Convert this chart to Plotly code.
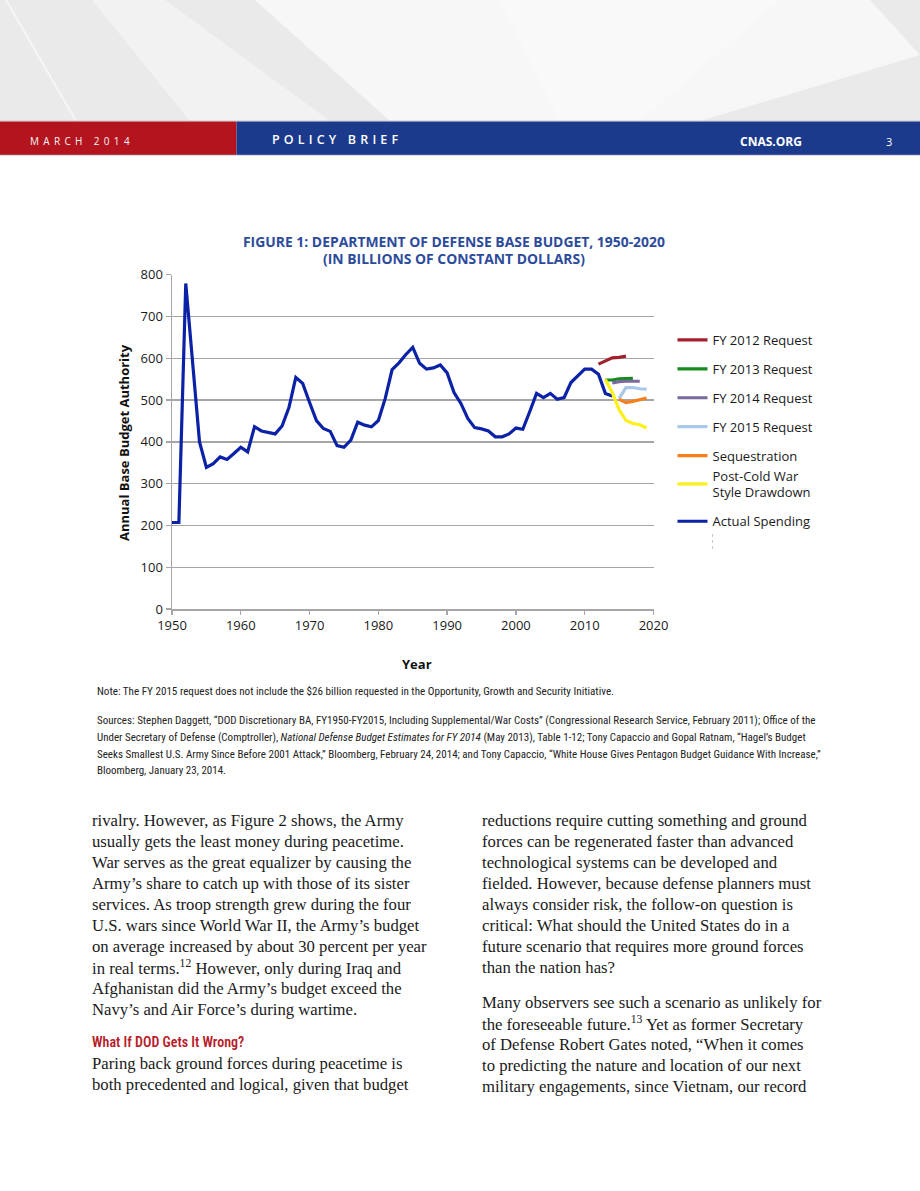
import plotly.graph_objects as go

# full page figure 920x1191 (body margin removed after plotting)
W, H = 920, 1191
OX, OY = 0, 0
DW, DH = W - 2 * OX, H - 2 * OY

# ---------------- data ----------------
years_actual = list(range(1950, 2015))
actual = [207, 207, 779, 580, 400, 339, 348, 364, 358, 372,
          387, 376, 436, 426, 423, 419, 438, 482, 554, 540,
          494, 451, 432, 425, 391, 387, 404, 447, 440, 436,
          451, 504, 573, 589, 609, 626, 588, 574, 577, 584,
          565, 518, 492, 456, 434, 431, 426, 412, 412, 419,
          433, 430, 472, 516, 506, 516, 502, 506, 542, 557,
          574, 574, 562, 516, 510]

years_fy12 = [2012, 2013, 2014, 2015, 2016]
fy12 = [586, 594, 601, 602, 605]
years_fy13 = [2013, 2014, 2015, 2016, 2017]
fy13 = [548, 548, 551, 552, 552]
years_fy14 = [2014, 2015, 2016, 2017, 2018]
fy14 = [541, 544, 545, 545, 545]
years_fy15 = [2015, 2016, 2017, 2018, 2019]
fy15 = [504, 530, 530, 527, 526]
years_seq = [2015, 2016, 2017, 2018, 2019]
seq = [502, 494, 497, 501, 505]
years_pcw = [2013, 2014, 2015, 2016, 2017, 2018, 2019]
pcw = [549, 518, 477, 451, 444, 441, 433]

series_names = ["FY 2012 Request", "FY 2013 Request", "FY 2014 Request",
                "FY 2015 Request", "Sequestration",
                "Post-Cold War<br>Style Drawdown", "Actual Spending"]
series_colors = ["#A2202E", "#168A1E", "#7B6A9C", "#A8C8EA", "#F7801E",
                 "#FAF01C", "#0B22A6"]
series_groups = ["g0", "g1", "g2", "g3", "g4", "g4", "g6"]

x_ticks = [1950, 1960, 1970, 1980, 1990, 2000, 2010, 2020]
y_ticks = [0, 100, 200, 300, 400, 500, 600, 700, 800]

title_lines = ["FIGURE 1: DEPARTMENT OF DEFENSE BASE BUDGET, 1950-2020",
               "(IN BILLIONS OF CONSTANT DOLLARS)"]

note_lines = [
    "Note: The FY 2015 request does not include the $26 billion requested in the Opportunity, Growth and Security Initiative.",
]
source_lines = [
    "Sources: Stephen Daggett, “DOD Discretionary BA, FY1950-FY2015, Including Supplemental/War Costs” (Congressional Research Service, February 2011); Office of the",
    "Under Secretary of Defense (Comptroller), <i>National Defense Budget Estimates for FY 2014</i> (May 2013), Table 1-12; Tony Capaccio and Gopal Ratnam, “Hagel’s Budget",
    "Seeks Smallest U.S. Army Since Before 2001 Attack,” Bloomberg, February 24, 2014; and Tony Capaccio, “White House Gives Pentagon Budget Guidance With Increase,”",
    "Bloomberg, January 23, 2014.",
]

left_col_a = [
    "rivalry. However, as Figure 2 shows, the Army",
    "usually gets the least money during peacetime.",
    "War serves as the great equalizer by causing the",
    "Army’s share to catch up with those of its sister",
    "services. As troop strength grew during the four",
    "U.S. wars since World War II, the Army’s budget",
    "on average increased by about 30 percent per year",
    "in real terms.<sup>12</sup> However, only during Iraq and",
    "Afghanistan did the Army’s budget exceed the",
    "Navy’s and Air Force’s during wartime.",
]
left_heading = "What If DOD Gets It Wrong?"
left_col_b = [
    "Paring back ground forces during peacetime is",
    "both precedented and logical, given that budget",
]
right_col_a = [
    "reductions require cutting something and ground",
    "forces can be regenerated faster than advanced",
    "technological systems can be developed and",
    "fielded. However, because defense planners must",
    "always consider risk, the follow-on question is",
    "critical: What should the United States do in a",
    "future scenario that requires more ground forces",
    "than the nation has?",
]
right_col_b = [
    "Many observers see such a scenario as unlikely for",
    "the foreseeable future.<sup>13</sup> Yet as former Secretary",
    "of Defense Robert Gates noted, “When it comes",
    "to predicting the nature and location of our next",
    "military engagements, since Vietnam, our record",
]

# ---------------- helpers ----------------
def px(x):
    return (x - OX) / DW


def py(y):
    return 1 - (y - OY) / DH


def spaced(t, gap):
    return gap.join(list(t)).replace(" ", "\u00a0")


SANS = "Open Sans, Noto Sans, sans-serif"
NARROW = "Liberation Sans Narrow, Arial Narrow, Roboto Condensed, sans-serif"
SERIF = "Liberation Serif, Times New Roman, serif"

fig = go.Figure()

all_series = [
    (years_fy12, fy12), (years_fy13, fy13), (years_fy14, fy14),
    (years_fy15, fy15), (years_seq, seq), (years_pcw, pcw),
    (years_actual, actual),
]
draw_order = [6, 0, 1, 2, 3, 4, 5]
for i in draw_order:
    xs, ys = all_series[i]
    fig.add_trace(go.Scatter(
        x=xs, y=ys, mode="lines", name=series_names[i],
        line=dict(color=series_colors[i], width=3.2),
        legendgroup=series_groups[i], legendrank=i + 1,
        hoverinfo="skip",
    ))

# ---------------- layout ----------------
shapes = []
# header background
shapes.append(dict(type="rect", xref="paper", yref="paper", x0=px(-20), x1=px(940),
                   y0=py(121), y1=py(-20), fillcolor="#EAEAEB", line_width=0, layer="below"))
shapes.append(dict(type="path", xref="paper", yref="paper",
                   path="M %f,%f L %f,%f L %f,%f L %f,%f L %f,%f Z" % (
                       px(255), py(0), px(870), py(0), px(920), py(55),
                       px(700), py(121), px(390), py(121)),
                   fillcolor="#F7F7F7", line_width=0, layer="below"))
shapes.append(dict(type="path", xref="paper", yref="paper",
                   path="M %f,%f L %f,%f L %f,%f L %f,%f Z" % (
                       px(92), py(0), px(165), py(0), px(330), py(121), px(190), py(121)),
                   fillcolor="#F2F2F2", line_width=0, layer="below"))
shapes.append(dict(type="path", xref="paper", yref="paper",
                   path="M %f,%f L %f,%f L %f,%f L %f,%f Z" % (
                       px(500), py(0), px(780), py(0), px(640), py(121), px(560), py(121)),
                   fillcolor="#FAFAFA", line_width=0, layer="below", opacity=0.7))
shapes.append(dict(type="line", xref="paper", yref="paper",
                   x0=px(6), y0=py(0), x1=px(76), y1=py(121),
                   line=dict(color="#F6F6F6", width=2), layer="below"))
shapes.append(dict(type="line", xref="paper", yref="paper",
                   x0=px(0), y0=py(121), x1=px(920), y1=py(121),
                   line=dict(color="#C9C9CC", width=1), layer="below"))
# banner
shapes.append(dict(type="rect", xref="paper", yref="paper", x0=px(-20), x1=px(236.5),
                   y0=py(155), y1=py(121.5), fillcolor="#B3141E", line_width=0, layer="below"))
shapes.append(dict(type="rect", xref="paper", yref="paper", x0=px(236.5), x1=px(940),
                   y0=py(155), y1=py(121.5), fillcolor="#1B3A8B", line_width=0, layer="below"))
shapes.append(dict(type="line", xref="paper", yref="paper",
                   x0=px(0), y0=py(155.3), x1=px(920), y1=py(155.3),
                   line=dict(color="#D4D6E0", width=1), layer="below"))
# faint dotted mark under the legend
shapes.append(dict(type="line", xref="paper", yref="paper",
                   x0=px(712.5), y0=py(534), x1=px(712.5), y1=py(550),
                   line=dict(color="#C8C8C8", width=1, dash="dot"), layer="below"))

annotations = []


def ann(text, x, y, size, color="#1a1a1a", family=SANS, xanchor="left",
        weight="normal", angle=0):
    annotations.append(dict(
        text=text, x=px(x), y=py(y), xref="paper", yref="paper",
        xanchor=xanchor, yanchor="middle", showarrow=False, textangle=angle,
        font=dict(family=family, size=size, color=color, weight=weight),
    ))


# banner texts
ann(spaced("MARCH 2014", "\u2004\u200a"), 28, 141, 10, color="#F4F4F4")
ann(spaced("POLICY BRIEF", "\u2004"), 270, 140, 12.5, color="#FFFFFF", weight=600)
ann("CNAS.ORG", 738, 141, 12, color="#FFFFFF", weight="bold")
ann("3", 884, 141, 11, color="#FFFFFF")

# chart title and axis titles
ann("<b>%s</b>" % title_lines[0], 454, 241, 13.9, color="#2C4B9B", xanchor="center")
ann("<b>%s</b>" % title_lines[1], 454, 259, 13.9, color="#2C4B9B", xanchor="center")
ann("<b>Year</b>", 417, 664, 13, color="#111111", xanchor="center")
ann("<b>Annual Base Budget Authority</b>", 124, 443, 13, color="#111111",
    xanchor="center", angle=-90)

# notes
ann(note_lines[0], 95, 691, 11.1, color="#222222", family=NARROW)
for k, line in enumerate(source_lines):
    ann(line, 95, 720 + 17 * k, 11.0, color="#222222", family=NARROW)

# body text
BODY = 16.7
for k, line in enumerate(left_col_a):
    ann(line, 90, 820 + 21 * k, BODY, color="#1a1a1a", family=SERIF)
ann(left_heading, 90, 1042, 14.0, color="#B81D2A", family=NARROW, weight=600)
for k, line in enumerate(left_col_b):
    ann(line, 90, 1063 + 21 * k, BODY, color="#1a1a1a", family=SERIF)
for k, line in enumerate(right_col_a):
    ann(line, 480, 820 + 21 * k, BODY, color="#1a1a1a", family=SERIF)
for k, line in enumerate(right_col_b):
    ann(line, 480, 1002 + 21 * k, BODY, color="#1a1a1a", family=SERIF)

fig.update_layout(
    width=DW, height=DH, autosize=False,
    margin=dict(l=0, r=0, t=0, b=0, pad=0, autoexpand=False),
    paper_bgcolor="white", plot_bgcolor="white",
    showlegend=True,
    legend=dict(x=px(672.5), y=py(325), xanchor="left", yanchor="top",
                font=dict(family=SANS, size=13, color="#1a1a1a"),
                bgcolor="rgba(0,0,0,0)", tracegroupgap=9, itemwidth=30,
                itemclick=False, itemdoubleclick=False),
    xaxis=dict(domain=[px(172), px(653.5)], range=[1950, 2020], automargin=False,
               tickmode="array", tickvals=x_ticks, ticktext=[str(v) for v in x_ticks],
               showgrid=False, zeroline=False, showline=True,
               linecolor="#A6A6A6", linewidth=1.5,
               ticks="outside", ticklen=4, tickcolor="#A6A6A6", tickwidth=1.3,
               tickfont=dict(family=SANS, size=13, color="#1a1a1a"), fixedrange=True),
    yaxis=dict(domain=[py(609), py(274.7)], range=[0, 800], automargin=False,
               tickmode="array", tickvals=y_ticks, ticktext=[str(v) for v in y_ticks],
               showgrid=True, gridcolor="#A6A6A6", gridwidth=1.3,
               zeroline=False, showline=True, linecolor="#A6A6A6", linewidth=1.5,
               ticks="outside", ticklen=5, tickcolor="#A6A6A6", tickwidth=1.3,
               tickfont=dict(family=SANS, size=13, color="#1a1a1a"), fixedrange=True),
    shapes=shapes,
    annotations=annotations,
    hovermode=False,
)

fig.write_html("out.html", config={"displayModeBar": False, "staticPlot": True},
               post_script="document.documentElement.style.margin='0';"
                           "document.body.style.margin='0';"
                           "document.body.style.padding='0';"
                           "document.body.style.overflow='hidden';")
